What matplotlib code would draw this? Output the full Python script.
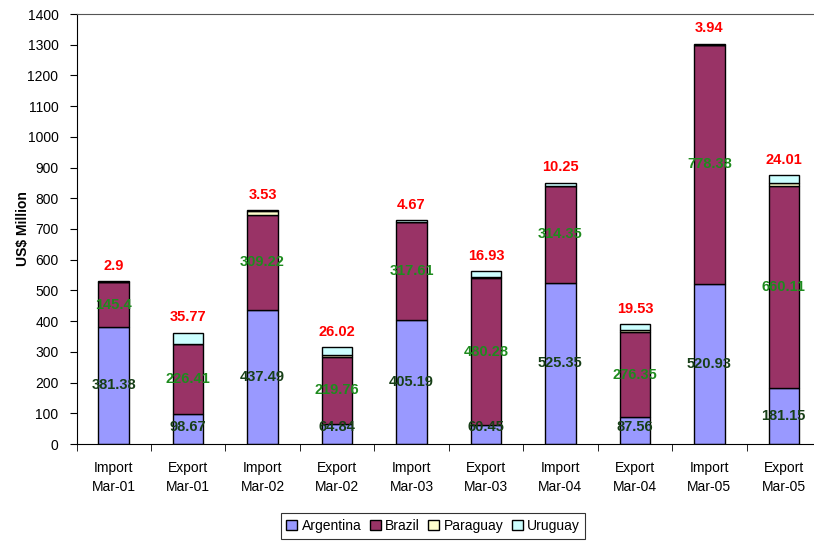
import matplotlib.pyplot as plt
import numpy as np

plt.rcParams['font.family'] = ['Liberation Sans', 'DejaVu Sans']

categories = ['Import\nMar-01', 'Export\nMar-01', 'Import\nMar-02', 'Export\nMar-02',
              'Import\nMar-03', 'Export\nMar-03', 'Import\nMar-04', 'Export\nMar-04',
              'Import\nMar-05', 'Export\nMar-05']
argentina = [381.38, 98.67, 437.49, 64.84, 405.19, 60.45, 525.35, 87.56, 520.93, 181.15]
brazil = [145.4, 226.41, 309.22, 219.76, 317.61, 480.28, 314.35, 276.35, 778.38, 660.11]
paraguay = [0.5, 2.0, 12.0, 4.0, 1.0, 4.0, 1.0, 7.0, 0.5, 9.0]
uruguay = [2.9, 35.77, 3.53, 26.02, 4.67, 16.93, 10.25, 19.53, 3.94, 24.01]

colors = {'Argentina': '#9999FF', 'Brazil': '#993366',
          'Paraguay': '#FFFFCC', 'Uruguay': '#CCFFFF'}


def fmt(v):
    return '%g' % round(v, 2)


fig = plt.figure(figsize=(8.14, 5.42), dpi=100)
ax = fig.add_axes([76.5 / 814, 98 / 542, (821 - 76.5) / 814, 430 / 542])

x = np.arange(len(categories))
w = 0.41
a = np.array(argentina)
b = np.array(brazil)
p = np.array(paraguay)
u = np.array(uruguay)

kw = dict(width=w, edgecolor='black', linewidth=1.0)
ax.bar(x, a, color=colors['Argentina'], label='Argentina', **kw)
ax.bar(x, b, bottom=a, color=colors['Brazil'], label='Brazil', **kw)
ax.bar(x, p, bottom=a + b, color=colors['Paraguay'], label='Paraguay', **kw)
ax.bar(x, u, bottom=a + b + p, color=colors['Uruguay'], label='Uruguay', **kw)

lab = dict(ha='center', va='center', fontsize=10.5, fontweight='bold')
for i in range(len(x)):
    ax.text(x[i], max(a[i] / 2, 56), fmt(a[i]), color='#173F17', **lab)
    ax.text(x[i], a[i] + b[i] / 2, fmt(b[i]), color='#1E8B1E', **lab)
    top = a[i] + b[i] + p[i] + u[i]
    ax.annotate(fmt(u[i]), (x[i], top), xytext=(0, 11), textcoords='offset points',
                color='#FF0000', **lab)

ax.set_xlim(-0.5, len(x) - 0.5)
ax.set_ylim(0, 1400)
ax.set_yticks(np.arange(0, 1401, 100))
ax.set_xticks(x)
ax.set_xticklabels(categories, fontsize=10, linespacing=1.45)
ax.set_xticks(np.arange(-0.5, len(x), 1), minor=True)
ax.tick_params(axis='x', which='major', length=0, pad=12)
ax.tick_params(axis='x', which='minor', length=5, direction='out', color='black')
ax.tick_params(axis='y', labelsize=10, length=5, direction='out', pad=8)

ax.spines['top'].set_color('#555555')
ax.spines['right'].set_visible(False)
ax.spines['left'].set_color('black')
ax.spines['bottom'].set_color('black')

ax.set_ylabel('US$ Million', fontsize=10, fontweight='bold')
ax.yaxis.set_label_coords(-0.063, 0.5)

handles, labels = ax.get_legend_handles_labels()
leg = fig.legend(handles, labels, loc='center', bbox_to_anchor=(433 / 814, 16 / 542),
                 ncol=4, fontsize=10, frameon=True, fancybox=False,
                 handlelength=0.8, handleheight=0.8, handletextpad=0.3,
                 columnspacing=0.6, borderpad=0.4)
leg.get_frame().set_edgecolor('black')
leg.get_frame().set_linewidth(0.8)

fig.savefig('out.png', dpi=100)
